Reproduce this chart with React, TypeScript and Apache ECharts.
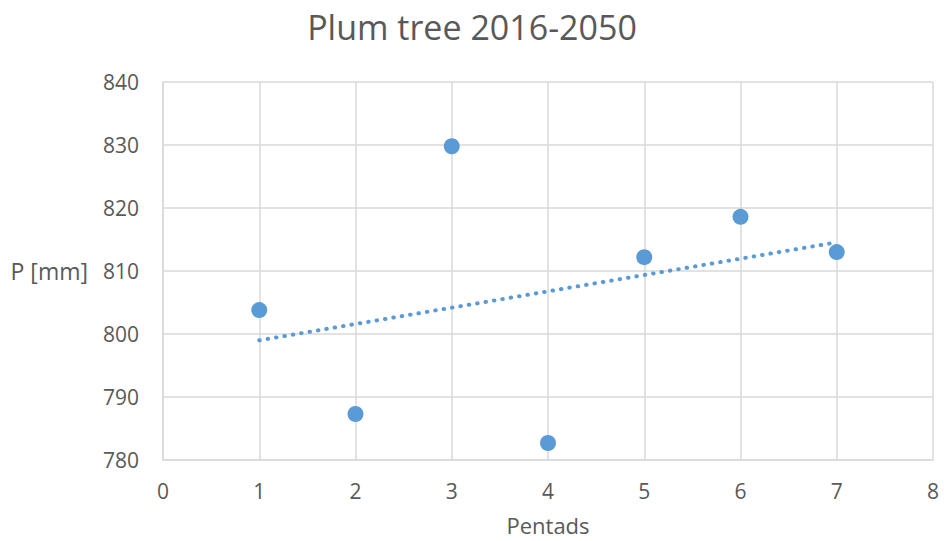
import React, { useEffect, useRef } from "react";
import * as echarts from "echarts";

const pentads = [1, 2, 3, 4, 5, 6, 7];
const precipitation = [803.8, 787.3, 829.8, 782.7, 812.2, 818.6, 813.0];
const titleText = "Plum tree 2016-2050";
const xName = "Pentads";
const yName = "P [mm]";

function linearFit(xs: number[], ys: number[]) {
  const n = xs.length;
  const mx = xs.reduce((a, b) => a + b, 0) / n;
  const my = ys.reduce((a, b) => a + b, 0) / n;
  let sxy = 0, sxx = 0;
  for (let i = 0; i < n; i++) {
    sxy += (xs[i] - mx) * (ys[i] - my);
    sxx += (xs[i] - mx) * (xs[i] - mx);
  }
  const slope = sxy / sxx;
  return { slope, intercept: my - slope * mx };
}

export default function App() {
  const ref = useRef<HTMLDivElement>(null);
  useEffect(() => {
    if (!ref.current) return;
    const chart = echarts.init(ref.current, undefined, { renderer: "svg" });
    const fit = linearFit(pentads, precipitation);
    const x0 = pentads[0];
    const x1 = pentads[pentads.length - 1];
    const trend = [
      [x0, fit.intercept + fit.slope * x0],
      [x1, fit.intercept + fit.slope * x1],
    ];
    const font = "'Open Sans', 'Noto Sans', sans-serif";
    chart.setOption({
      animation: false,
      backgroundColor: "#ffffff",
      textStyle: { fontFamily: font },
      title: {
        text: titleText,
        left: "center",
        top: 5,
        textStyle: { fontFamily: font, fontSize: 34, fontWeight: "normal", color: "#595959" },
      },
      grid: {
        left: 163,
        right: 11,
        top: 82,
        bottom: 81,
        containLabel: false,
        outerBoundsMode: "none",
      },
      xAxis: {
        type: "value",
        min: 0,
        max: 8,
        interval: 1,
        name: xName,
        nameLocation: "middle",
        nameGap: 54,
        nameTextStyle: { fontFamily: font, fontSize: 22, color: "#595959" },
        axisLine: { show: true, lineStyle: { color: "#d9d9d9", width: 1.5 } },
        axisTick: { show: false },
        axisLabel: { fontFamily: font, fontSize: 21, color: "#595959", margin: 20 },
        splitLine: { show: true, lineStyle: { color: "#d9d9d9", width: 1.5 } },
      },
      yAxis: {
        type: "value",
        min: 780,
        max: 840,
        interval: 10,
        name: yName,
        nameLocation: "middle",
        nameRotate: 0,
        nameGap: 75,
        nameTextStyle: { fontFamily: font, fontSize: 23, color: "#595959" },
        axisLine: { show: true, lineStyle: { color: "#d9d9d9", width: 1.5 } },
        axisTick: { show: false },
        axisLabel: { fontFamily: font, fontSize: 21, color: "#595959", margin: 24 },
        splitLine: { show: true, lineStyle: { color: "#d9d9d9", width: 1.5 } },
      },
      series: [
        {
          type: "line",
          data: trend,
          symbol: "none",
          lineStyle: { color: "#5b9bd5", width: 4, type: [0.5, 8], cap: "round", opacity: 1 },
          z: 2,
        },
        {
          type: "scatter",
          data: pentads.map((x, i) => [x, precipitation[i]]),
          symbolSize: 16,
          itemStyle: { color: "#5b9bd5", opacity: 1 },
          z: 3,
        },
      ],
    });
    return () => chart.dispose();
  }, []);
  return (
    <div
      ref={ref}
      style={{ position: "fixed", left: 0, top: 0, width: 944, height: 541 }}
    />
  );
}
